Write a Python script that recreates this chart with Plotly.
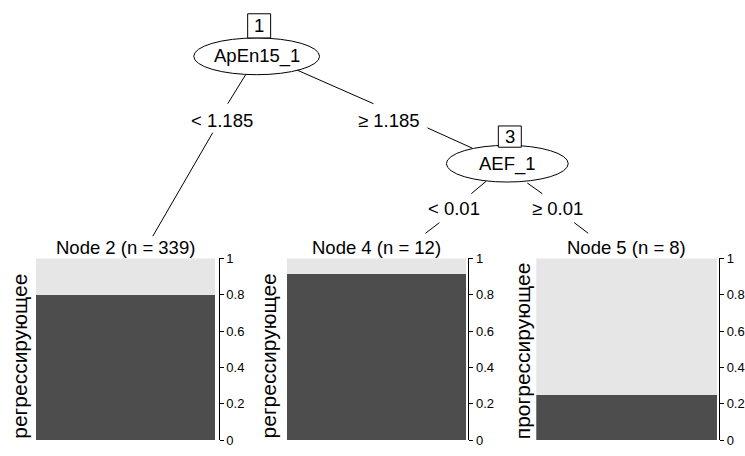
import plotly.graph_objects as go

# ---- data ----
class_levels = ["регрессирующее", "прогрессирующее"]
terminal_ids = [2, 4, 5]
terminal_n = [339, 12, 8]
prop_regress = [0.80, 0.917, 0.25]          # share of first class (dark)
terminal_label = ["регрессирующее", "регрессирующее", "прогрессирующее"]
inner_ids = [1, 3]
inner_vars = ["ApEn15_1", "AEF_1"]
split_labels = ["< 1.185", "\u2265 1.185", "< 0.01", "\u2265 0.01"]
tick_vals = [0, 0.2, 0.4, 0.6, 0.8, 1]

# ---- layout constants (pixels) ----
W, H = 745, 456
FONT = "Liberation Sans, Arial, sans-serif"
FS = 18.5
DARK, LIGHT = "#4d4d4d", "#e6e6e6"

def px(x):
    return x / W

def py(y):
    return 1 - y / H

fig = go.Figure()

# terminal panels: (bar left, bar right, axis x, top, bottom)
panels = [(36, 215, 219, 260, 448), (287, 467, 469, 260, 448), (537, 718, 720, 260, 448)]
label_pos = [(20, 448, "bottom"), (269, 448, "bottom"), (524, 262, "top")]

for i, (bl, br, ax, top, bot) in enumerate(panels):
    k = "" if i == 0 else str(i + 1)
    xa, ya = "x" + k, "y" + k
    p = prop_regress[i]
    fig.add_trace(go.Bar(x=[0.5], y=[p], width=1, marker=dict(color=DARK, line=dict(width=0)),
                         xaxis=xa, yaxis=ya, showlegend=False, name=class_levels[0], hoverinfo="skip"))
    fig.add_trace(go.Bar(x=[0.5], y=[1 - p], width=1, marker=dict(color=LIGHT, line=dict(width=0)),
                         xaxis=xa, yaxis=ya, showlegend=False, name=class_levels[1], hoverinfo="skip"))
    scale = (ax - bl) / (br - bl)
    fig.layout["xaxis" + k] = dict(domain=[px(bl), px(ax)], range=[0, scale], visible=False,
                                   anchor=ya, fixedrange=True)
    fig.layout["yaxis" + k] = dict(domain=[py(bot), py(top)], range=[0, 1], anchor=xa, side="right",
                                   showline=True, linecolor="black", linewidth=1, ticks="outside",
                                   ticklen=4, tickcolor="black", tickvals=tick_vals,
                                   showgrid=False, zeroline=False,
                                   tickfont=dict(family=FONT, size=13, color="black"), fixedrange=True)
    cx = (bl + br) / 2
    fig.add_annotation(x=px(cx), y=py(249), xref="paper", yref="paper",
                       text=f"Node {terminal_ids[i]} (n = {terminal_n[i]})", showarrow=False,
                       font=dict(family=FONT, size=FS, color="black"), xanchor="center", yanchor="middle")
    lx, ly, anc = label_pos[i]
    fig.add_annotation(x=px(lx), y=py(ly), xref="paper", yref="paper", text=terminal_label[i],
                       textangle=-90, showarrow=False, font=dict(family=FONT, size=21, color="black"),
                       xanchor="center", yanchor=anc)

# edges (visible segments, pixels)
segments = [((246, 70), (228, 100)), ((213, 130), (153, 237)),
            ((297, 65), (374, 100)), ((428, 125), (473, 146)),
            ((487, 180), (472, 193)), ((440, 223), (426, 234)),
            ((528, 182), (543, 193)), ((575, 223), (589, 234))]
for (x0, y0), (x1, y1) in segments:
    fig.add_shape(type="line", xref="paper", yref="paper", x0=px(x0), y0=py(y0), x1=px(x1), y1=py(y1),
                  line=dict(color="black", width=1))

# edge labels
edge_label_pos = [(222, 117), (390, 117), (455, 208), (558, 208)]
for t, (x, y) in zip(split_labels, edge_label_pos):
    fig.add_annotation(x=px(x), y=py(y), xref="paper", yref="paper", text=t, showarrow=False,
                       font=dict(family=FONT, size=FS, color="black"), xanchor="center", yanchor="middle")

# inner nodes: ellipse (x0,x1,y0,y1), id box (x0,x1,y0,y1)
ellipses = [(194, 320, 32, 70), (447, 569, 143, 181)]
boxes = [(248, 271, 7, 32), (499, 522, 123, 145)]
for j in range(2):
    ex0, ex1, ey0, ey1 = ellipses[j]
    fig.add_shape(type="circle", xref="paper", yref="paper", x0=px(ex0), x1=px(ex1), y0=py(ey1), y1=py(ey0),
                  line=dict(color="black", width=1), fillcolor="white")
    fig.add_annotation(x=px((ex0 + ex1) / 2), y=py((ey0 + ey1) / 2), xref="paper", yref="paper",
                       text=inner_vars[j], showarrow=False, font=dict(family=FONT, size=FS, color="black"),
                       xanchor="center", yanchor="middle")
    bx0, bx1, by0, by1 = boxes[j]
    fig.add_shape(type="rect", xref="paper", yref="paper", x0=px(bx0), x1=px(bx1), y0=py(by1), y1=py(by0),
                  line=dict(color="black", width=1), fillcolor="white")
    fig.add_annotation(x=px((bx0 + bx1) / 2), y=py((by0 + by1) / 2), xref="paper", yref="paper",
                       text=str(inner_ids[j]), showarrow=False, font=dict(family=FONT, size=FS, color="black"),
                       xanchor="center", yanchor="middle")

fig.update_layout(width=W, height=H, margin=dict(l=0, r=0, t=0, b=0), barmode="stack",
                  plot_bgcolor="white", paper_bgcolor="white", showlegend=False, hovermode=False)

fig.write_html("out.html", config={"displayModeBar": False})
